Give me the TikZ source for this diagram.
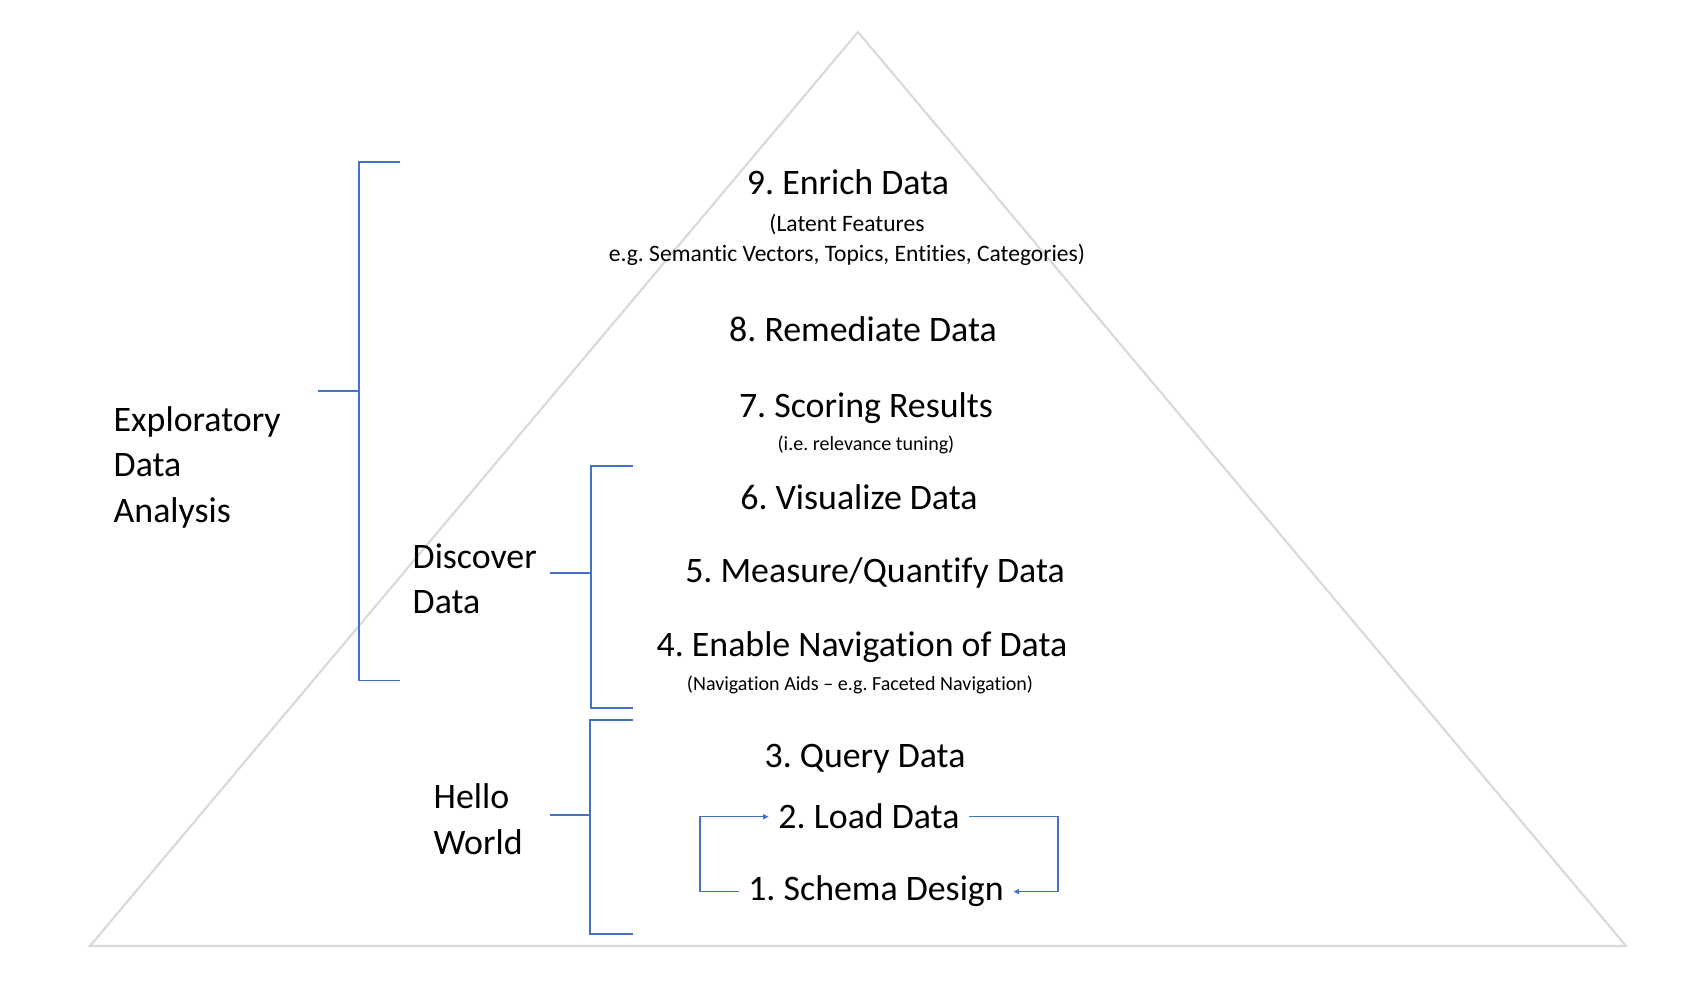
\documentclass[tikz,border=0pt]{standalone}
\usepackage{fontspec}
\setmainfont{Carlito}[Ligatures=NoCommon]
\usepackage{tikz}
\usetikzlibrary{arrows.meta}
\frenchspacing

\definecolor{bracketblue}{HTML}{4472C4}
\definecolor{pyramidgray}{HTML}{D9D9D9}

\begin{document}
\begin{tikzpicture}[
  item/.style={anchor=base,inner sep=0.09cm,font=\fontsize{10.2}{12.95}\selectfont},
  note/.style={anchor=base,inner sep=0.05cm,font=\fontsize{5.7}{7}\selectfont},
  group/.style={anchor=west,inner sep=0pt,align=left,font=\fontsize{10.2}{12.95}\selectfont},
  bracket/.style={draw=bracketblue,line width=0.45pt},
  loopline/.style={draw=bracketblue,line width=0.45pt,-{Triangle[length=1.6pt,width=1.4pt]}}
]
\useasboundingbox (0,0) rectangle (16.98,9.88);

% pyramid
\draw[pyramidgray,line width=0.6pt] (0.90,0.42) -- (8.58,9.56) -- (16.26,0.42) -- cycle;

% levels
\node[item] (enrich) at (8.48,7.93) {9. Enrich Data};
\node[note,font=\fontsize{6.7}{7}\selectfont] (latent) at (8.47,7.56) {(Latent Features};
\node[note,font=\fontsize{6.7}{7}\selectfont] (latentex) at (8.47,7.26) {e.g. Semantic Vectors, Topics, Entities, Categories)};
\node[item] (remediate) at (8.63,6.46) {8. Remediate Data};
\node[item] (scoring) at (8.66,5.705) {7. Scoring Results};
\node[note] (tuning) at (8.66,5.37) {(i.e. relevance tuning)};
\node[item] (visualize) at (8.59,4.78) {6. Visualize Data};
\node[item] (measure) at (8.75,4.05) {5. Measure/Quantify Data};
\node[item] (navigate) at (8.62,3.31) {4. Enable Navigation of Data};
\node[note] (navaids) at (8.60,2.97) {(Navigation Aids -- e.g. Faceted Navigation)};
\node[item] (query) at (8.65,2.20) {3. Query Data};
\node[item] (ld) at (8.69,1.59) {2. Load Data};
\node[item] (sd) at (8.76,0.87) {1. Schema Design};

% groups
\node[group] (eda) at (1.13,5.21) {Exploratory\\Data\\Analysis};
\node[group] (discover) at (4.12,4.09) {Discover\\Data};
\node[group] (hello) at (4.33,1.69) {Hello\\World};

% brackets
\draw[bracket] (4.00,8.26) -- (3.59,8.26) -- (3.59,3.075) -- (4.00,3.075);
\draw[bracket] (3.18,5.97) -- (3.59,5.97);
\draw[bracket] (6.33,5.22) -- (5.91,5.22) -- (5.91,2.80) -- (6.33,2.80);
\draw[bracket] (5.50,4.15) -- (5.91,4.15);
\draw[bracket] (6.33,2.68) -- (5.90,2.68) -- (5.90,0.54) -- (6.33,0.54);
\draw[bracket] (5.50,1.73) -- (5.90,1.73);

% load / schema loop
\coordinate (lf) at (7.00,1.20);
\coordinate (rt) at (10.58,1.20);
\draw[loopline] (sd.west) -| (lf) |- (ld.west);
\draw[loopline] (ld.east) -| (rt) |- (sd.east);

\end{tikzpicture}
\end{document}
